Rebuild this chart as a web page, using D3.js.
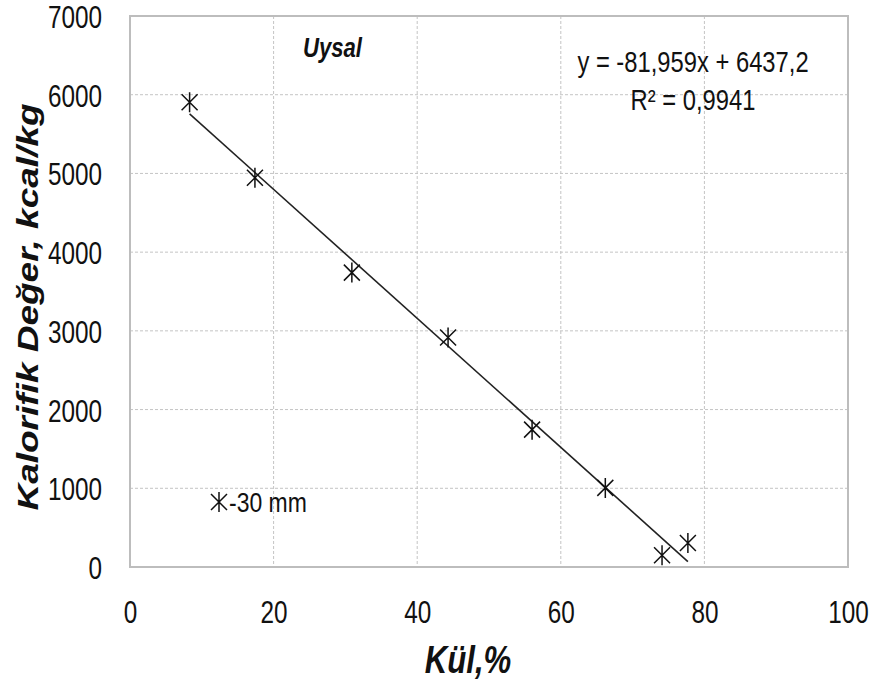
<!DOCTYPE html>
<meta charset="utf-8"/>
<head>
<style>
  body { margin:0; background:#fff; }
  text { font-family: "Liberation Sans", Arial, sans-serif; fill:#111; }
</style>
<script src="https://d3js.org/d3.v7.min.js" charset="utf-8"></script>
</head>
<body>
<script>
  // data
  var kul = [8.3, 17.4, 30.9, 44.3, 56.0, 66.2, 74.1, 77.7];       // Kül, %
  var kalori = [5905, 4945, 3740, 2915, 1745, 1005, 150, 305];      // kcal/kg
  var xTicks = [0, 20, 40, 60, 80, 100];
  var yTicks = [0, 1000, 2000, 3000, 4000, 5000, 6000, 7000];
  var slope = -81.959, intercept = 6437.2;
  var eqLines = ["y = -81,959x + 6437,2", "R\u00B2 = 0,9941"];

  var width = 872, height = 685;
  var plotL = 130, plotR = 848, plotT = 16, plotB = 567;

  var svg = d3.select("body").append("svg")
    .attr("width", width)
    .attr("height", height);

  var x = d3.scaleLinear().domain([0, 100]).range([plotL, plotR]);
  var y = d3.scaleLinear().domain([0, 7000]).range([plotB, plotT]);

  // grid (dashed)
  svg.append("g").selectAll("line")
    .data(xTicks.slice(1, -1)).enter().append("line")
    .attr("x1", d => x(d)).attr("x2", d => x(d))
    .attr("y1", plotT).attr("y2", plotB)
    .attr("stroke", "#c4c4c4").attr("stroke-dasharray", "3,2");
  svg.append("g").selectAll("line")
    .data(yTicks.slice(1, -1)).enter().append("line")
    .attr("x1", plotL).attr("x2", plotR)
    .attr("y1", d => y(d)).attr("y2", d => y(d))
    .attr("stroke", "#c4c4c4").attr("stroke-dasharray", "3,2");

  // plot border
  svg.append("rect")
    .attr("x", plotL).attr("y", plotT)
    .attr("width", plotR - plotL).attr("height", plotB - plotT)
    .attr("fill", "none").attr("stroke", "#bdbdbd").attr("stroke-width", 2);

  // axes, labels squeezed sideways like the original
  var yAxis = svg.append("g")
    .attr("transform", "translate(" + plotL + ",0)")
    .call(d3.axisLeft(y).tickValues(yTicks).tickSize(0).tickFormat(d3.format("d")));
  yAxis.select(".domain").remove();
  yAxis.selectAll("text")
    .attr("x", 0).attr("dy", "0.36em")
    .attr("transform", "translate(-28,0) scale(0.76,1)")
    .style("font-size", "32px")
    .attr("fill", "#111");

  var xAxis = svg.append("g")
    .attr("transform", "translate(0," + plotB + ")")
    .call(d3.axisBottom(x).tickValues(xTicks).tickSize(0));
  xAxis.select(".domain").remove();
  xAxis.selectAll("text")
    .attr("y", 0).attr("dy", 0)
    .attr("transform", "translate(0,56) scale(0.76,1)")
    .style("font-size", "32px")
    .attr("fill", "#111");

  // trend line over the data range
  var xr = d3.extent(kul);
  svg.append("line")
    .attr("x1", x(xr[0])).attr("y1", y(slope * xr[0] + intercept))
    .attr("x2", x(xr[1])).attr("y2", y(slope * xr[1] + intercept))
    .attr("stroke", "#222").attr("stroke-width", 1.6);

  // asterisk marker
  function star(g, cx, cy) {
    var h = 10, w = 8;
    var p = "M0," + (-h) + "V" + h +
            "M" + (-w) + "," + (-w) + "L" + w + "," + w +
            "M" + (-w) + "," + w + "L" + w + "," + (-w);
    g.append("path")
      .attr("d", p)
      .attr("transform", "translate(" + cx + "," + cy + ")")
      .attr("stroke", "#111").attr("stroke-width", 1.5).attr("fill", "none");
  }
  var pts = svg.append("g");
  kul.forEach(function(k, i) { star(pts, x(k), y(kalori[i])); });

  // legend
  star(svg, 219, 502);
  svg.append("text")
    .attr("transform", "translate(229,512) scale(0.82,1)")
    .style("font-size", "28px")
    .text("-30 mm");

  // equation
  svg.selectAll("text.eq")
    .data(eqLines).enter().append("text")
    .attr("class", "eq")
    .attr("text-anchor", "middle")
    .attr("transform", (d, i) => "translate(693," + (72 + i * 38) + ") scale(0.82,1)")
    .style("font-size", "29px")
    .text(d => d);

  // title inside plot
  svg.append("text")
    .attr("transform", "translate(303,57) scale(0.79,1)")
    .style("font-size", "28px")
    .style("font-weight", "bold")
    .style("font-style", "italic")
    .text("Uysal");

  // axis titles
  svg.append("text")
    .attr("text-anchor", "middle")
    .attr("transform", "translate(468,673) scale(0.8,1)")
    .style("font-size", "39px")
    .style("font-weight", "bold")
    .style("font-style", "italic")
    .text("Kül,%");

  svg.append("text")
    .attr("text-anchor", "middle")
    .attr("transform", "translate(38,307) rotate(-90) scale(1,0.8)")
    .style("font-size", "37px")
    .style("font-weight", "bold")
    .style("font-style", "italic")
    .text("Kalorifik Değer, kcal/kg");
</script>
</body>
